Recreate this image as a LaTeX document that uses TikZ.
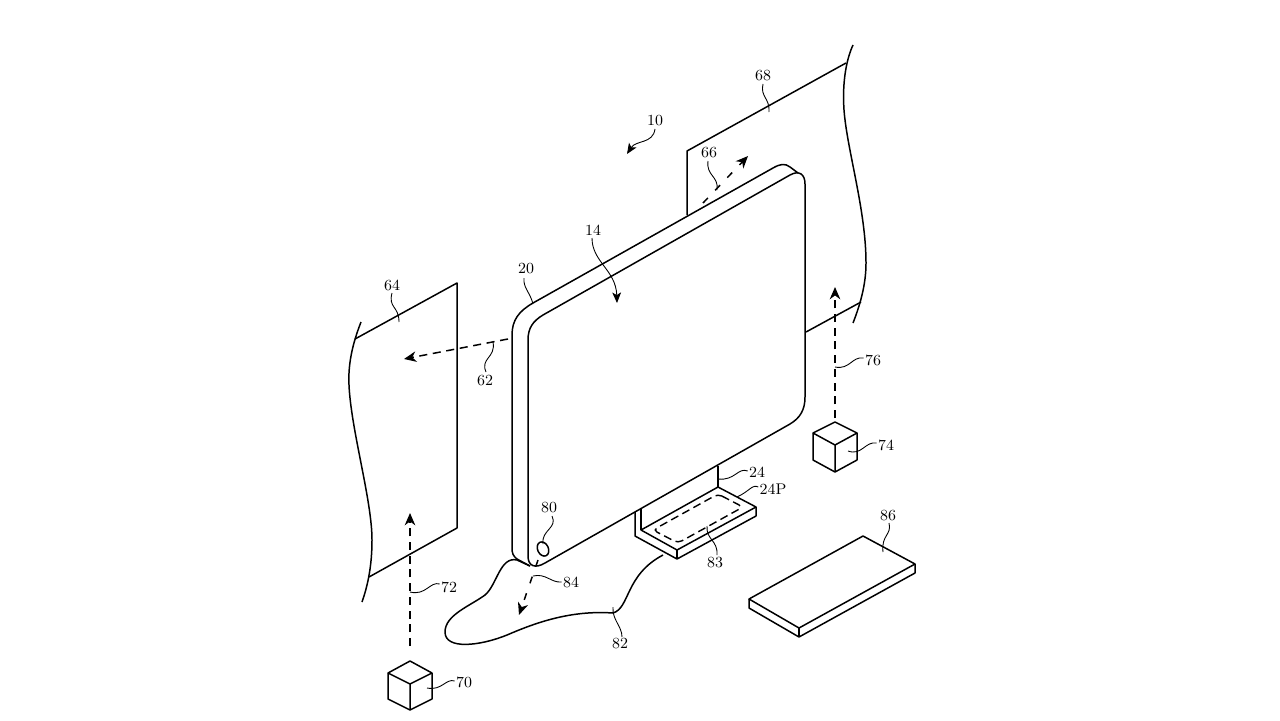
\documentclass[tikz,border=0pt]{standalone}
\usepackage{tikz}
\usetikzlibrary{arrows.meta}
\tikzset{
    edge/.style={line width=0.85pt, line join=round},
    lead/.style={line width=0.5pt},
    beam/.style={line width=0.85pt, dash pattern=on 4.6pt off 3.2pt, -{Stealth[length=7pt,width=6pt,inset=2.2pt]}},
    lbl/.style={inner sep=0pt, font=\fontsize{8.8}{10}\selectfont}
}
\begin{document}
\begin{tikzpicture}[x=0.02cm,y=-0.02cm]
    \useasboundingbox (0,0) rectangle (1280,720);
    \node [lbl] (l10) at (655,121) {10};
    \node [lbl] (l14) at (593,230) {14};
    \node [lbl] (l20) at (526,269) {20};
    \node [lbl] (l24) at (757,472) {24};
    \node [lbl] (l24P) at (773,489) {24P};
    \node [lbl] (l62) at (485,381) {62};
    \node [lbl] (l64) at (392,285) {64};
    \node [lbl] (l66) at (709,153) {66};
    \node [lbl] (l68) at (763,76) {68};
    \node [lbl] (l70) at (464,682) {70};
    \node [lbl] (l72) at (449,587) {72};
    \node [lbl] (l74) at (886,445) {74};
    \node [lbl] (l76) at (873,360) {76};
    \node [lbl] (l80) at (549,508) {80};
    \node [lbl] (l82) at (620,644) {82};
    \node [lbl] (l83) at (715,563) {83};
    \node [lbl] (l84) at (571,582) {84};
    \node [lbl] (l86) at (888,516) {86};

    \coordinate (t10) at (627,154);
    \coordinate (t14) at (617,303);
    \coordinate (t20) at (533,304);
    \coordinate (t24) at (718,479);
    \coordinate (t24P) at (737,497);
    \coordinate (t62) at (493,342);
    \coordinate (t64) at (399,322);
    \coordinate (t66) at (717,190);
    \coordinate (t68) at (769,112);
    \coordinate (t70) at (427,688);
    \coordinate (t72) at (410,592);
    \coordinate (t74) at (848,451);
    \coordinate (t76) at (835,367);
    \coordinate (t80) at (543,544);
    \coordinate (t82) at (613,607);
    \coordinate (t83) at (707,526);
    \coordinate (t84) at (533,576);
    \coordinate (t86) at (883,552);

    % monitor
    \draw [edge] (533,303) -- (773,168) .. controls (780,164) and (785,163) .. (790,167) -- (798,173);
    \draw [edge] (533,303) .. controls (519,311) and (512,320) .. (512,335) -- (512,548) .. controls (512,553) and (513,556) .. (517,559) -- (530,566);
    \draw [edge] (543,315) -- (790,175) .. controls (799,170) and (805,174) .. (805,184) -- (805,397) .. controls (805,410) and (800,418) .. (790,424) -- (545,563) .. controls (535,569) and (528,566) .. (528,556) -- (528,340) .. controls (528,328) and (533,321) .. (543,315);
    \draw [edge, rotate around={25:(543,549)}] (543,549) ellipse (5.4 and 7.4);

    % panels
    \draw [edge] (687,215) -- (687,151) -- (846,63);
    \draw [edge] (806,332) -- (861,302);
    \draw [edge] (853,45) .. controls (847,58) and (842,80) .. (844,110) .. controls (847,150) and (866,210) .. (866,263) .. controls (866,285) and (860,305) .. (853,323);
    \draw [edge] (355,339) -- (457,283) -- (457,528) -- (369,577);
    \draw [edge] (361,322) .. controls (352,345) and (348,365) .. (349,385) .. controls (351,430) and (372,500) .. (372,540) .. controls (372,565) and (368,585) .. (362,602);

    % stand
    \draw [edge] (718,466) -- (718,487);
    \draw [edge] (641,508) -- (641,530);
    \draw [edge] (641,530) -- (718,487) -- (756,507) -- (677,550) -- cycle;
    \draw [edge] (635,512) -- (635,536) -- (677,559) -- (756,516) -- (756,507);
    \draw [edge] (677,550) -- (677,559);
    \draw [line width=0.8pt, dash pattern=on 4.6pt off 2.6pt, rounded corners=2.5pt] (718,494) -- (743,507) -- (678,543) -- (653,530) -- cycle;

    % keyboard
    \draw [edge] (863,536) -- (915,564) -- (799,628) -- (749,599) -- cycle;
    \draw [edge] (749,599) -- (749,608) -- (799,637) -- (915,573) -- (915,564);
    \draw [edge] (799,628) -- (799,637);

    % cubes
    \draw [edge] (410,661) -- (432,673) -- (432,699) -- (410,710) -- (388,699) -- (388,673) -- cycle;
    \draw [edge] (388,673) -- (410,684) -- (432,673) (410,684) -- (410,710);
    \draw [edge] (835,422) -- (857,433) -- (857,460) -- (835,472) -- (813,460) -- (813,433) -- cycle;
    \draw [edge] (813,433) -- (835,445) -- (857,433) (835,445) -- (835,472);

    % floor
    \draw [edge] (530,566) -- (517,560) .. controls (500,556) and (497,585) .. (485,595) .. controls (470,606) and (445,615) .. (445,632) .. controls (445,650) and (480,646) .. (507,635) .. controls (535,623) and (570,610) .. (613,613) .. controls (630,608) and (625,575) .. (663,555);

    % light paths
    \draw [beam] (508,339) -- (404,359);
    \draw [beam, dash pattern=on 4pt off 6pt] (703,203) -- (748,156);
    \draw [beam] (410,646) -- (410,513);
    \draw [beam] (835,418) -- (835,287);
    \draw [beam, dash pattern=on 4pt off 6pt] (538,560) -- (519,615);

    % leaders
    \draw [lead, -{Stealth[length=6pt,width=5pt,inset=1.5pt]}] (l10) ++(0,8) .. controls (653,144) and (636,140) .. (t10);
    \draw [lead, -{Stealth[length=6pt,width=5pt,inset=1.5pt]}] (l14) ++(-1,8) .. controls (592,262) and (616,270) .. (t14);
    \draw [lead] (l20) ++(-2,9) .. controls (523,288) and (530,292) .. (t20);
    \draw [lead] (l24.west) ++(-1,-1) .. controls (738,467) and (735,481) .. (t24);
    \draw [lead] (l24P.west) ++(-1,-2) .. controls (752,484) and (750,491) .. (t24P);
    \draw [lead] (l62) ++(1,-9) .. controls (480,358) and (496,358) .. (t62);
    \draw [lead] (l64) ++(0,8) .. controls (388,308) and (399,306) .. (t64);
    \draw [lead] (l66) ++(-1,8) .. controls (706,176) and (719,176) .. (t66);
    \draw [lead] (l68) ++(0,8) .. controls (760,97) and (770,98) .. (t68);
    \draw [lead] (l70.west) ++(-1,-1) .. controls (446,678) and (442,691) .. (t70);
    \draw [lead] (l72.west) ++(-1,-3) .. controls (430,581) and (426,596) .. (t72);
    \draw [lead] (l74.west) ++(-1,-2) .. controls (865,441) and (862,456) .. (t74);
    \draw [lead] (l76.west) ++(-1,-2) .. controls (852,356) and (850,370) .. (t76);
    \draw [lead] (l80) ++(3,8) .. controls (558,528) and (541,530) .. (t80);
    \draw [lead] (l82) ++(2,-7) .. controls (622,626) and (612,620) .. (t82);
    \draw [lead] (l83) ++(2,-8) .. controls (718,540) and (706,540) .. (t83);
    \draw [lead] (l84.west) ++(-1,0) .. controls (551,583) and (546,573) .. (t84);
    \draw [lead] (l86) ++(1,7) .. controls (892,535) and (881,535) .. (t86);
\end{tikzpicture}
\end{document}
